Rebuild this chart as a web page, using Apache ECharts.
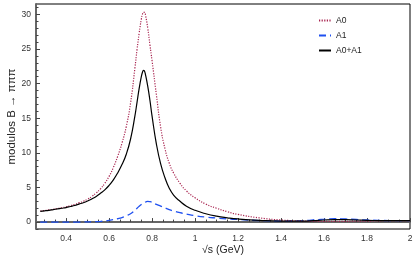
<!DOCTYPE html>
<html>
<head>
<meta charset="utf-8">
<script src="https://cdn.jsdelivr.net/npm/echarts@6/dist/echarts.min.js"></script>
<style>
html,body{margin:0;padding:0;background:#fff;}
#c{width:415px;height:266px;}
</style>
</head>
<body>
<div id="c"></div>
<script>
const xs = [0.28,0.30,0.32,0.34,0.36,0.38,0.40,0.42,0.44,0.46,0.48,0.50,0.52,0.54,0.56,0.58,0.60,0.62,0.64,0.66,0.68,0.70,0.72,0.73,0.74,0.75,0.755,0.76,0.765,0.77,0.78,0.79,0.80,0.82,0.84,0.86,0.88,0.90,0.93,0.96,1.00,1.05,1.10,1.15,1.20,1.30,1.40,1.50,1.55,1.60,1.65,1.70,1.75,1.80,1.90,2.00];
const a0 = [1.6,1.67,1.75,1.85,1.95,2.07,2.2,2.37,2.55,2.77,3.0,3.3,3.7,4.2,4.8,5.6,6.6,7.9,9.5,11.4,13.8,17.2,22.2,24.9,27.3,29.3,30.0,30.3,30.3,29.8,28.0,25.6,23.3,18.4,13.7,10.6,8.5,7.1,5.6,4.5,3.5,2.6,2.0,1.5,1.1,0.6,0.3,0.15,0.1,0.1,0.1,0.1,0.15,0.15,0.2,0.2];
const a1 = [0,0,0,0,0,0,0,0,0,0,0.02,0.03,0.05,0.07,0.1,0.16,0.25,0.35,0.48,0.65,0.9,1.2,1.7,2.0,2.3,2.55,2.65,2.75,2.82,2.9,3.0,2.95,2.85,2.55,2.3,2.05,1.8,1.6,1.35,1.15,0.92,0.72,0.58,0.46,0.37,0.22,0.15,0.2,0.3,0.42,0.5,0.45,0.38,0.3,0.22,0.2];
const a01 = [1.55,1.62,1.7,1.8,1.9,2.0,2.1,2.25,2.4,2.6,2.8,3.05,3.35,3.7,4.15,4.65,5.3,6.1,7.1,8.3,9.8,12.0,15.3,17.3,19.3,21.0,21.6,21.9,21.8,21.2,19.6,17.6,15.3,11.3,8.4,6.4,4.9,3.9,3.0,2.3,1.7,1.2,0.85,0.62,0.45,0.25,0.15,0.15,0.2,0.3,0.35,0.35,0.3,0.25,0.2,0.2];
const seriesNames = ['A0','A1','A0+A1'];
const xTicks = [0.4,0.6,0.8,1.0,1.2,1.4,1.6,1.8,2.0];
const xMinorTicks = [0.3,0.35,0.45,0.5,0.55,0.65,0.7,0.75,0.85,0.9,0.95,1.05,1.1,1.15,1.25,1.3,1.35,1.45,1.5,1.55,1.65,1.7,1.75,1.85,1.9,1.95];
const yTicks = [0,5,10,15,20,25,30];
const yMinorTicks = [-1,1,2,3,4,6,7,8,9,11,12,13,14,16,17,18,19,21,22,23,24,26,27,28,29,31];

const pair = (vals) => xs.map((x,i) => [x, vals[i]]);
const FONT = 'Liberation Sans';
const chart = echarts.init(document.getElementById('c'), null, {renderer:'canvas'});
const XMIN = 0.26, XMAX = 2.0, YMIN = -1, YMAX = 31.5;
chart.setOption({
  animation:false,
  grid:{left:36,right:5,top:4,bottom:37,show:true,borderColor:'#000',borderWidth:1,containLabel:false,outerBoundsMode:'none'},
  legend:{
    orient:'vertical', left:313, top:11, itemWidth:12, itemHeight:8, itemGap:6,
    itemStyle:{opacity:0},
    textStyle:{fontFamily:FONT,fontSize:8.5,color:'#222'},
    data:seriesNames
  },
  xAxis:[{
    type:'value', min:XMIN, max:XMAX, position:'bottom',
    name:'√s (GeV)', nameLocation:'middle', nameGap:16, nameMoveOverlap:false,
    nameTextStyle:{fontFamily:FONT,fontSize:10.5,color:'#222',verticalAlign:'top'},
    axisLine:{show:true,lineStyle:{color:'#666',width:2}},
    axisTick:{show:true,inside:true,length:4,customValues:xTicks,lineStyle:{color:'#444',width:1}},
    axisLabel:{customValues:xTicks,fontFamily:FONT,fontSize:8.5,color:'#333',margin:5,
      formatter:(v)=>String(+(+v).toFixed(1))},
    splitLine:{show:false}
  },{
    type:'value', min:XMIN, max:XMAX, position:'bottom',
    axisLine:{show:false},
    axisTick:{show:true,inside:true,length:2.5,customValues:xMinorTicks,lineStyle:{color:'#444',width:1}},
    axisLabel:{show:false}, splitLine:{show:false}
  }],
  yAxis:[{
    type:'value', min:YMIN, max:YMAX, position:'left',
    name:'modulos B → πππ', nameLocation:'middle', nameGap:18, nameRotate:90, nameMoveOverlap:false,
    nameTextStyle:{fontFamily:FONT,fontSize:11.5,color:'#222'},
    axisLine:{show:true,lineStyle:{color:'#666',width:2}},
    axisTick:{show:true,inside:true,length:4,customValues:yTicks,lineStyle:{color:'#444',width:1}},
    axisLabel:{customValues:yTicks,fontFamily:FONT,fontSize:8.5,color:'#333',margin:5},
    splitLine:{show:false}
  },{
    type:'value', min:YMIN, max:YMAX, position:'left', offset:0,
    axisLine:{show:false},
    axisTick:{show:true,inside:true,length:2.5,customValues:yMinorTicks,lineStyle:{color:'#444',width:1}},
    axisLabel:{show:false}, splitLine:{show:false}
  }],
  series:[
    {name:'A0',type:'line',data:pair(a0),symbol:'none',smooth:0.5,
      lineStyle:{color:'#a8234f',width:1.2,type:[1.2,1.4]},itemStyle:{color:'#a8234f'},z:3},
    {name:'A1',type:'line',data:pair(a1),symbol:'none',smooth:0.5,
      lineStyle:{color:'#1f50f0',width:1.3,type:[7,4]},itemStyle:{color:'#1f50f0'},z:2},
    {name:'A0+A1',type:'line',data:pair(a01),symbol:'none',smooth:0.5,
      lineStyle:{color:'#000',width:1.2},itemStyle:{color:'#000'},z:4}
  ]
});
</script>
</body>
</html>
